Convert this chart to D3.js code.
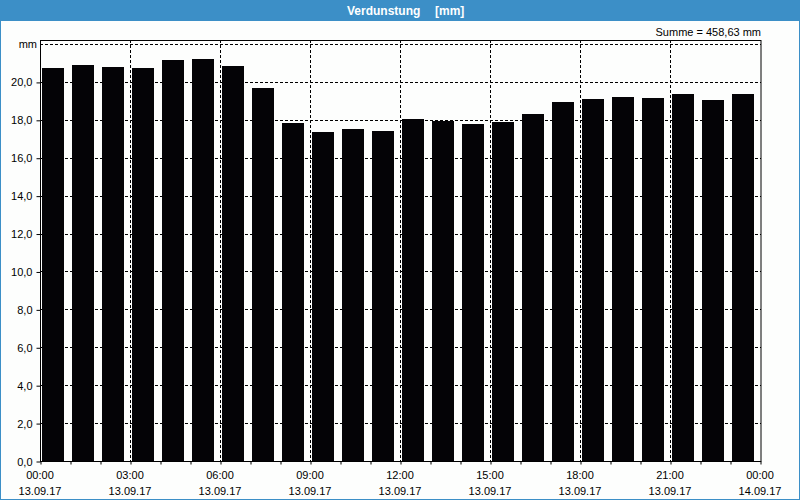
<!DOCTYPE html>
<html>
<head>
<meta charset="utf-8">
<script src="https://cdn.jsdelivr.net/npm/d3@7"></script>
<style>
  html, body { margin: 0; padding: 0; background: #fff; }
  svg { display: block; }
  text { font-family: "Liberation Sans", Arial, sans-serif; }
</style>
</head>
<body>
<svg id="chart" width="800" height="500"></svg>
<script>
// ---- data ----
const title = "Verdunstung";
const unitLabel = "[mm]";
const sumLabel = "Summe = 458,63 mm";
const hours = d3.range(0, 24); // 13.09.17 00:00 ... 23:00 hourly
const values = [20.74, 20.91, 20.79, 20.74, 21.16, 21.21, 20.84, 19.68,
                17.84, 17.36, 17.52, 17.41, 18.05, 17.94, 17.78, 17.89,
                18.31, 18.94, 19.10, 19.21, 19.16, 19.37, 19.05, 19.37];
const yTicks = [0, 2, 4, 6, 8, 10, 12, 14, 16, 18, 20];
const yMax = 22;
const startTime = new Date(2017, 8, 13, 0, 0);
const endTime = new Date(2017, 8, 14, 0, 0);

// ---- layout ----
const W = 800, H = 500;
const pLeft = 40, pRight = 760, pTop = 44, pBottom = 461, frameTop = 40;
const svg = d3.select("#chart");

const blue = "#3c8fc7";
svg.append("rect").attr("x", 0).attr("y", 0).attr("width", W).attr("height", H).attr("fill", "#fdfefd");
svg.append("rect").attr("x", 0.5).attr("y", 0.5).attr("width", W - 1).attr("height", H - 1)
  .attr("fill", "none").attr("stroke", blue).attr("stroke-width", 1);
svg.append("rect").attr("x", 0).attr("y", 0).attr("width", W).attr("height", 21).attr("fill", blue);
svg.append("text").attr("x", 347).attr("y", 15).attr("fill", "#fff")
  .attr("font-size", 12).attr("font-weight", "bold").text(title);
svg.append("text").attr("x", 435).attr("y", 15).attr("fill", "#fff")
  .attr("font-size", 12).attr("font-weight", "bold").text(unitLabel);

const x = d3.scaleTime().domain([startTime, endTime]).range([pLeft, pRight]);
const y = d3.scaleLinear().domain([0, yMax]).range([pBottom, pTop]);

// grid
const g = svg.append("g");
const gridY = yTicks.filter(v => v > 0).concat([yMax]);
g.selectAll("line.gy").data(gridY).join("line")
  .attr("x1", pLeft).attr("x2", pRight + 1)
  .attr("y1", d => Math.round(y(d)) + 0.5).attr("y2", d => Math.round(y(d)) + 0.5)
  .attr("stroke", "#000").attr("stroke-dasharray", "3,2");
const majorTimes = d3.timeHour.every(3).range(startTime, new Date(endTime.getTime() + 1));
g.selectAll("line.gx").data(majorTimes.slice(1, -1)).join("line")
  .attr("x1", d => Math.round(x(d)) + 0.5).attr("x2", d => Math.round(x(d)) + 0.5)
  .attr("y1", frameTop).attr("y2", pBottom)
  .attr("stroke", "#000").attr("stroke-dasharray", "3,2");

// bars
const step = x(d3.timeHour.offset(startTime, 1)) - x(startTime);
svg.selectAll("rect.bar").data(values).join("rect")
  .attr("x", (d, i) => x(d3.timeHour.offset(startTime, hours[i])) + 2)
  .attr("width", step - 8)
  .attr("y", d => Math.round(y(d)))
  .attr("height", d => pBottom - Math.round(y(d)))
  .attr("fill", "#040306");

// frame
svg.append("rect").attr("x", pLeft + 0.5).attr("y", frameTop + 0.5).attr("width", pRight - pLeft + 0.5).attr("height", pBottom - frameTop)
  .attr("fill", "none").attr("stroke", "#000").attr("stroke-width", 1);

// y axis
const yAxis = d3.axisLeft(y).tickValues(yTicks).tickSize(4)
  .tickFormat(d => d3.format(".1f")(d).replace(".", ","));
const ya = svg.append("g").attr("transform", `translate(${pLeft + 0.5},0.5)`).call(yAxis);
ya.select(".domain").remove();
ya.selectAll("text").attr("font-family", "Liberation Sans, Arial, sans-serif").attr("font-size", 11).attr("fill", "#000").attr("dx", -1);
ya.selectAll("line").attr("stroke", "#000");
svg.append("text").attr("x", 37).attr("y", y(yMax) + 4).attr("text-anchor", "end")
  .attr("font-size", 11).attr("fill", "#000").text("mm");

// x axis
const xa = svg.append("g").attr("transform", `translate(0.5,${pBottom + 0.5})`)
  .call(d3.axisBottom(x).ticks(d3.timeHour.every(1)).tickSize(3).tickFormat(""));
xa.select(".domain").remove();
xa.selectAll("line").attr("stroke", "#000");
const fmtT = d3.timeFormat("%H:%M"), fmtD = d3.timeFormat("%d.%m.%y");
const lab = svg.append("g").selectAll("g").data(majorTimes).join("g")
  .attr("transform", d => `translate(${x(d)},0)`);
lab.append("text").attr("y", 479).attr("text-anchor", "middle").attr("font-size", 11).attr("fill", "#000").text(fmtT);
lab.append("text").attr("y", 495).attr("text-anchor", "middle").attr("font-size", 11).attr("fill", "#000").text(fmtD);

// sum label
svg.append("text").attr("x", 761).attr("y", 36).attr("text-anchor", "end")
  .attr("font-size", 11).attr("fill", "#000").text(sumLabel);
</script>
</body>
</html>
